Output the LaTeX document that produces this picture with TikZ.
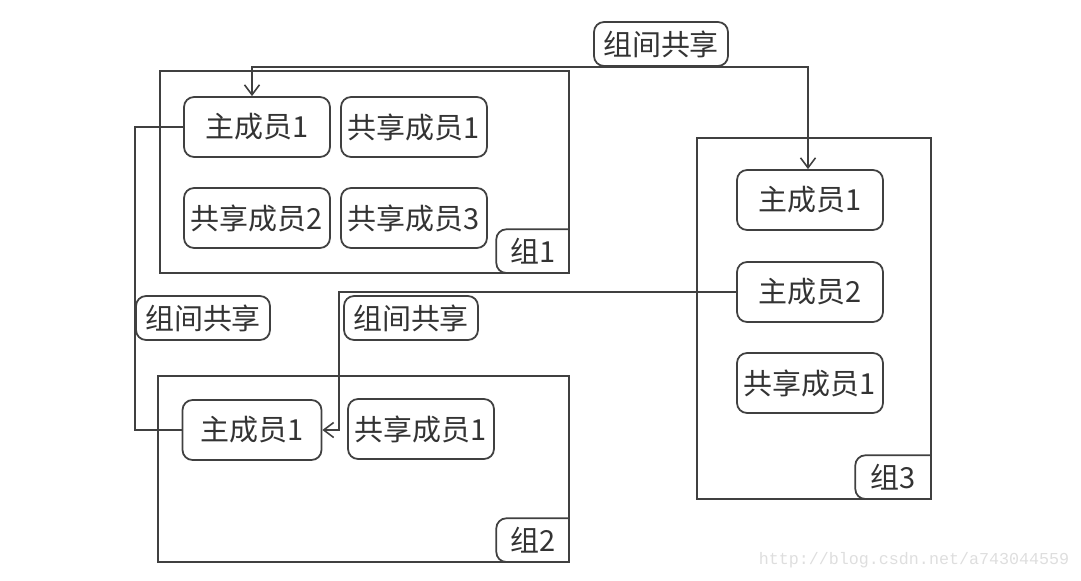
\documentclass[tikz,border=0pt]{standalone}
\usepackage{fontspec}
\newfontfamily\cjk{Noto Sans CJK SC}
\setmonofont{Liberation Mono}
\usetikzlibrary{arrows.meta}
\tikzset{
  member/.style={draw=black!75,line width=1pt,rounded corners=0.2cm,text=black!80,
    minimum width=2.92cm,minimum height=1.2cm,inner sep=0pt,font=\cjk\fontsize{16.5}{19}\selectfont},
  sharelabel/.style={member,minimum width=2.68cm,minimum height=0.88cm},
  grouptag/.style={minimum width=1.44cm,minimum height=0.86cm,inner sep=0pt,text=black!80,
    font=\cjk\fontsize{16.5}{19}\selectfont},
  groupframe/.style={draw=black!75,line width=1pt},
  connector/.style={draw=black!75,line width=0.9pt},
  arrowend/.style={-{Straight Barb[length=2mm,width=3mm]}}
}
\begin{document}
\begin{tikzpicture}[x=0.02cm,y=-0.02cm]
\useasboundingbox (0,0) rectangle (1081,581);
% group 1
\draw[groupframe] (160,71) rectangle (569,273) coordinate (g1se);
\node[grouptag,anchor=south east] (g1tag) at (g1se) {组1};
\draw[groupframe,rounded corners=0.2cm] (g1tag.north east) -| (g1tag.south west) -- (g1tag.south east);
\node[member] (a1) at (257,127) {主成员1};
\node[member] (a2) at (414,127) {共享成员1};
\node[member] (a3) at (257,218) {共享成员2};
\node[member] (a4) at (414,218) {共享成员3};
% group 2
\draw[groupframe] (158,376) rectangle (569,562) coordinate (g2se);
\node[grouptag,anchor=south east] (g2tag) at (g2se) {组2};
\draw[groupframe,rounded corners=0.2cm] (g2tag.north east) -| (g2tag.south west) -- (g2tag.south east);
\node[member,minimum width=2.78cm] (b1) at (252,430) {主成员1};
\node[member] (b2) at (421,429) {共享成员1};
% group 3
\draw[groupframe] (697,138) rectangle (931,499) coordinate (g3se);
\node[grouptag,anchor=south east,minimum width=1.5cm] (g3tag) at (g3se) {组3};
\draw[groupframe,rounded corners=0.2cm] (g3tag.north east) -| (g3tag.south west) -- (g3tag.south east);
\node[member] (c1) at (810,200) {主成员1};
\node[member] (c2) at (810,292) {主成员2};
\node[member] (c3) at (810,383) {共享成员1};
% sharing between groups
\node[sharelabel] (sharetop) at (661,44) {组间共享};
\node[sharelabel] (shareleft) at (203,318) {组间共享};
\node[sharelabel] (sharemid) at (411,318) {组间共享};
\coordinate (bend) at (339,430);
\draw[connector,{Straight Barb[length=2mm,width=3mm]}-{Straight Barb[length=2mm,width=3mm]}]
  ([xshift=-0.1cm]a1.north) |- (sharetop.south) -| ([xshift=-0.04cm]c1.north);
\draw[connector] (a1.west) -| (shareleft.west) |- (b1.west);
\draw[connector,arrowend] (c2.west) -| (bend) -- (b1.east);
\node[text=black!13,font=\ttfamily\fontsize{9.5}{12}\selectfont] (watermark) at (914,560) {http://blog.csdn.net/a743044559};
\end{tikzpicture}
\end{document}
